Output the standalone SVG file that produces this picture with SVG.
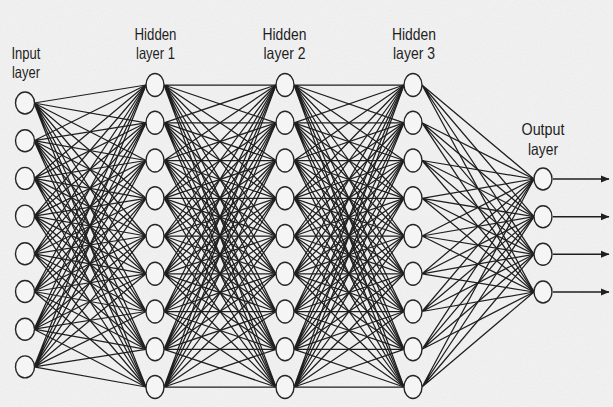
<svg xmlns="http://www.w3.org/2000/svg" width="613" height="407" viewBox="0 0 613 407">
<defs>
<style>
.edge{fill:none;stroke:#1f1f1f;stroke-width:1.25}
.node{fill:#f5f5f5;stroke:#262626;stroke-width:1.4}
.lbl{font-family:"Liberation Sans Narrow","Liberation Sans",Arial,sans-serif;font-size:16.5px;fill:#1e1e1e;text-anchor:middle}
.out{fill:none;stroke:#1f1f1f;stroke-width:1.4}
</style>
<filter id="paper" x="0" y="0" width="100%" height="100%">
<feTurbulence type="fractalNoise" baseFrequency="0.85" numOctaves="2" seed="4"/>
<feColorMatrix type="matrix" values="0.33 0.33 0.33 0 0 0.33 0.33 0.33 0 0 0.33 0.33 0.33 0 0 0 0 0 0 1"/>
</filter>
<marker id="arrow" markerWidth="9" markerHeight="9" refX="8" refY="4.5" orient="auto" markerUnits="userSpaceOnUse">
<path d="M0 1L8.5 4.5L0 8Z" fill="#1f1f1f"/>
</marker>
</defs>
<rect x="0" y="0" width="613" height="407" fill="#f6f6f6"/>
<rect x="0" y="0" width="613" height="407" filter="url(#paper)" opacity="0.1"/>
<g id="connectors">
<g id="input-to-h1" class="edge">
<path d="M34 103L146 85M34 103L146 122.8M34 103L146 160.5M34 103L146 198.3M34 103L146 236M34 103L146 273.8M34 103L146 311.5M34 103L146 349.3M34 103L146 387"/>
<path d="M34 140.7L146 85M34 140.7L146 122.8M34 140.7L146 160.5M34 140.7L146 198.3M34 140.7L146 236M34 140.7L146 273.8M34 140.7L146 311.5M34 140.7L146 349.3M34 140.7L146 387"/>
<path d="M34 178.4L146 85M34 178.4L146 122.8M34 178.4L146 160.5M34 178.4L146 198.3M34 178.4L146 236M34 178.4L146 273.8M34 178.4L146 311.5M34 178.4L146 349.3M34 178.4L146 387"/>
<path d="M34 216.1L146 85M34 216.1L146 122.8M34 216.1L146 160.5M34 216.1L146 198.3M34 216.1L146 236M34 216.1L146 273.8M34 216.1L146 311.5M34 216.1L146 349.3M34 216.1L146 387"/>
<path d="M34 253.8L146 85M34 253.8L146 122.8M34 253.8L146 160.5M34 253.8L146 198.3M34 253.8L146 236M34 253.8L146 273.8M34 253.8L146 311.5M34 253.8L146 349.3M34 253.8L146 387"/>
<path d="M34 291.5L146 85M34 291.5L146 122.8M34 291.5L146 160.5M34 291.5L146 198.3M34 291.5L146 236M34 291.5L146 273.8M34 291.5L146 311.5M34 291.5L146 349.3M34 291.5L146 387"/>
<path d="M34 329.2L146 85M34 329.2L146 122.8M34 329.2L146 160.5M34 329.2L146 198.3M34 329.2L146 236M34 329.2L146 273.8M34 329.2L146 311.5M34 329.2L146 349.3M34 329.2L146 387"/>
<path d="M34 366.9L146 85M34 366.9L146 122.8M34 366.9L146 160.5M34 366.9L146 198.3M34 366.9L146 236M34 366.9L146 273.8M34 366.9L146 311.5M34 366.9L146 349.3M34 366.9L146 387"/>
</g>
<g id="h1-to-h2" class="edge">
<path d="M164 85L276 85M164 85L276 122.8M164 85L276 160.5M164 85L276 198.3M164 85L276 236M164 85L276 273.8M164 85L276 311.5M164 85L276 349.3M164 85L276 387"/>
<path d="M164 122.8L276 85M164 122.8L276 122.8M164 122.8L276 160.5M164 122.8L276 198.3M164 122.8L276 236M164 122.8L276 273.8M164 122.8L276 311.5M164 122.8L276 349.3M164 122.8L276 387"/>
<path d="M164 160.5L276 85M164 160.5L276 122.8M164 160.5L276 160.5M164 160.5L276 198.3M164 160.5L276 236M164 160.5L276 273.8M164 160.5L276 311.5M164 160.5L276 349.3M164 160.5L276 387"/>
<path d="M164 198.3L276 85M164 198.3L276 122.8M164 198.3L276 160.5M164 198.3L276 198.3M164 198.3L276 236M164 198.3L276 273.8M164 198.3L276 311.5M164 198.3L276 349.3M164 198.3L276 387"/>
<path d="M164 236L276 85M164 236L276 122.8M164 236L276 160.5M164 236L276 198.3M164 236L276 236M164 236L276 273.8M164 236L276 311.5M164 236L276 349.3M164 236L276 387"/>
<path d="M164 273.8L276 85M164 273.8L276 122.8M164 273.8L276 160.5M164 273.8L276 198.3M164 273.8L276 236M164 273.8L276 273.8M164 273.8L276 311.5M164 273.8L276 349.3M164 273.8L276 387"/>
<path d="M164 311.5L276 85M164 311.5L276 122.8M164 311.5L276 160.5M164 311.5L276 198.3M164 311.5L276 236M164 311.5L276 273.8M164 311.5L276 311.5M164 311.5L276 349.3M164 311.5L276 387"/>
<path d="M164 349.3L276 85M164 349.3L276 122.8M164 349.3L276 160.5M164 349.3L276 198.3M164 349.3L276 236M164 349.3L276 273.8M164 349.3L276 311.5M164 349.3L276 349.3M164 349.3L276 387"/>
<path d="M164 387L276 85M164 387L276 122.8M164 387L276 160.5M164 387L276 198.3M164 387L276 236M164 387L276 273.8M164 387L276 311.5M164 387L276 349.3M164 387L276 387"/>
</g>
<g id="h2-to-h3" class="edge">
<path d="M294 85L404 85M294 85L404 122.8M294 85L404 160.5M294 85L404 198.3M294 85L404 236M294 85L404 273.8M294 85L404 311.5M294 85L404 349.3M294 85L404 387"/>
<path d="M294 122.8L404 85M294 122.8L404 122.8M294 122.8L404 160.5M294 122.8L404 198.3M294 122.8L404 236M294 122.8L404 273.8M294 122.8L404 311.5M294 122.8L404 349.3M294 122.8L404 387"/>
<path d="M294 160.5L404 85M294 160.5L404 122.8M294 160.5L404 160.5M294 160.5L404 198.3M294 160.5L404 236M294 160.5L404 273.8M294 160.5L404 311.5M294 160.5L404 349.3M294 160.5L404 387"/>
<path d="M294 198.3L404 85M294 198.3L404 122.8M294 198.3L404 160.5M294 198.3L404 198.3M294 198.3L404 236M294 198.3L404 273.8M294 198.3L404 311.5M294 198.3L404 349.3M294 198.3L404 387"/>
<path d="M294 236L404 85M294 236L404 122.8M294 236L404 160.5M294 236L404 198.3M294 236L404 236M294 236L404 273.8M294 236L404 311.5M294 236L404 349.3M294 236L404 387"/>
<path d="M294 273.8L404 85M294 273.8L404 122.8M294 273.8L404 160.5M294 273.8L404 198.3M294 273.8L404 236M294 273.8L404 273.8M294 273.8L404 311.5M294 273.8L404 349.3M294 273.8L404 387"/>
<path d="M294 311.5L404 85M294 311.5L404 122.8M294 311.5L404 160.5M294 311.5L404 198.3M294 311.5L404 236M294 311.5L404 273.8M294 311.5L404 311.5M294 311.5L404 349.3M294 311.5L404 387"/>
<path d="M294 349.3L404 85M294 349.3L404 122.8M294 349.3L404 160.5M294 349.3L404 198.3M294 349.3L404 236M294 349.3L404 273.8M294 349.3L404 311.5M294 349.3L404 349.3M294 349.3L404 387"/>
<path d="M294 387L404 85M294 387L404 122.8M294 387L404 160.5M294 387L404 198.3M294 387L404 236M294 387L404 273.8M294 387L404 311.5M294 387L404 349.3M294 387L404 387"/>
</g>
<g id="h3-to-output" class="edge">
<path d="M422 85L534 179M422 85L534 216.7M422 85L534 254.3M422 85L534 292"/>
<path d="M422 122.8L534 179M422 122.8L534 216.7M422 122.8L534 254.3M422 122.8L534 292"/>
<path d="M422 160.5L534 179M422 160.5L534 216.7M422 160.5L534 254.3M422 160.5L534 292"/>
<path d="M422 198.3L534 179M422 198.3L534 216.7M422 198.3L534 254.3M422 198.3L534 292"/>
<path d="M422 236L534 179M422 236L534 216.7M422 236L534 254.3M422 236L534 292"/>
<path d="M422 273.8L534 179M422 273.8L534 216.7M422 273.8L534 254.3M422 273.8L534 292"/>
<path d="M422 311.5L534 179M422 311.5L534 216.7M422 311.5L534 254.3M422 311.5L534 292"/>
<path d="M422 349.3L534 179M422 349.3L534 216.7M422 349.3L534 254.3M422 349.3L534 292"/>
<path d="M422 387L534 179M422 387L534 216.7M422 387L534 254.3M422 387L534 292"/>
</g>
<g id="outputs" class="out">
<path d="M553 179H609" marker-end="url(#arrow)"/>
<path d="M553 216.7H609" marker-end="url(#arrow)"/>
<path d="M553 254.3H609" marker-end="url(#arrow)"/>
<path d="M553 292H609" marker-end="url(#arrow)"/>
</g>
</g>
<g id="input-layer">
<g id="in1"><ellipse class="node" cx="25" cy="103" rx="9.5" ry="11"/></g>
<g id="in2"><ellipse class="node" cx="25" cy="140.7" rx="9.5" ry="11"/></g>
<g id="in3"><ellipse class="node" cx="25" cy="178.4" rx="9.5" ry="11"/></g>
<g id="in4"><ellipse class="node" cx="25" cy="216.1" rx="9.5" ry="11"/></g>
<g id="in5"><ellipse class="node" cx="25" cy="253.8" rx="9.5" ry="11"/></g>
<g id="in6"><ellipse class="node" cx="25" cy="291.5" rx="9.5" ry="11"/></g>
<g id="in7"><ellipse class="node" cx="25" cy="329.2" rx="9.5" ry="11"/></g>
<g id="in8"><ellipse class="node" cx="25" cy="366.9" rx="9.5" ry="11"/></g>
</g>
<g id="hidden-layer-1">
<g id="h1n1"><ellipse class="node" cx="155" cy="85" rx="9" ry="11.5"/></g>
<g id="h1n2"><ellipse class="node" cx="155" cy="122.8" rx="9" ry="11.5"/></g>
<g id="h1n3"><ellipse class="node" cx="155" cy="160.5" rx="9" ry="11.5"/></g>
<g id="h1n4"><ellipse class="node" cx="155" cy="198.3" rx="9" ry="11.5"/></g>
<g id="h1n5"><ellipse class="node" cx="155" cy="236" rx="9" ry="11.5"/></g>
<g id="h1n6"><ellipse class="node" cx="155" cy="273.8" rx="9" ry="11.5"/></g>
<g id="h1n7"><ellipse class="node" cx="155" cy="311.5" rx="9" ry="11.5"/></g>
<g id="h1n8"><ellipse class="node" cx="155" cy="349.3" rx="9" ry="11.5"/></g>
<g id="h1n9"><ellipse class="node" cx="155" cy="387" rx="9" ry="11.5"/></g>
</g>
<g id="hidden-layer-2">
<g id="h2n1"><ellipse class="node" cx="285" cy="85" rx="9" ry="11.5"/></g>
<g id="h2n2"><ellipse class="node" cx="285" cy="122.8" rx="9" ry="11.5"/></g>
<g id="h2n3"><ellipse class="node" cx="285" cy="160.5" rx="9" ry="11.5"/></g>
<g id="h2n4"><ellipse class="node" cx="285" cy="198.3" rx="9" ry="11.5"/></g>
<g id="h2n5"><ellipse class="node" cx="285" cy="236" rx="9" ry="11.5"/></g>
<g id="h2n6"><ellipse class="node" cx="285" cy="273.8" rx="9" ry="11.5"/></g>
<g id="h2n7"><ellipse class="node" cx="285" cy="311.5" rx="9" ry="11.5"/></g>
<g id="h2n8"><ellipse class="node" cx="285" cy="349.3" rx="9" ry="11.5"/></g>
<g id="h2n9"><ellipse class="node" cx="285" cy="387" rx="9" ry="11.5"/></g>
</g>
<g id="hidden-layer-3">
<g id="h3n1"><ellipse class="node" cx="413" cy="85" rx="9" ry="11.5"/></g>
<g id="h3n2"><ellipse class="node" cx="413" cy="122.8" rx="9" ry="11.5"/></g>
<g id="h3n3"><ellipse class="node" cx="413" cy="160.5" rx="9" ry="11.5"/></g>
<g id="h3n4"><ellipse class="node" cx="413" cy="198.3" rx="9" ry="11.5"/></g>
<g id="h3n5"><ellipse class="node" cx="413" cy="236" rx="9" ry="11.5"/></g>
<g id="h3n6"><ellipse class="node" cx="413" cy="273.8" rx="9" ry="11.5"/></g>
<g id="h3n7"><ellipse class="node" cx="413" cy="311.5" rx="9" ry="11.5"/></g>
<g id="h3n8"><ellipse class="node" cx="413" cy="349.3" rx="9" ry="11.5"/></g>
<g id="h3n9"><ellipse class="node" cx="413" cy="387" rx="9" ry="11.5"/></g>
</g>
<g id="output-layer">
<g id="out1"><ellipse class="node" cx="543" cy="179" rx="9" ry="11"/></g>
<g id="out2"><ellipse class="node" cx="543" cy="216.7" rx="9" ry="11"/></g>
<g id="out3"><ellipse class="node" cx="543" cy="254.3" rx="9" ry="11"/></g>
<g id="out4"><ellipse class="node" cx="543" cy="292" rx="9" ry="11"/></g>
</g>
<g id="labels">
<text class="lbl" x="26" y="59" textLength="29" lengthAdjust="spacingAndGlyphs">Input</text>
<text class="lbl" x="26" y="78" textLength="28" lengthAdjust="spacingAndGlyphs">layer</text>
<text class="lbl" x="155.5" y="39.5" textLength="42" lengthAdjust="spacingAndGlyphs">Hidden</text>
<text class="lbl" x="155.5" y="59" textLength="39" lengthAdjust="spacingAndGlyphs">layer 1</text>
<text class="lbl" x="284.5" y="39.5" textLength="44" lengthAdjust="spacingAndGlyphs">Hidden</text>
<text class="lbl" x="284.5" y="59" textLength="42" lengthAdjust="spacingAndGlyphs">layer 2</text>
<text class="lbl" x="414" y="39.5" textLength="44" lengthAdjust="spacingAndGlyphs">Hidden</text>
<text class="lbl" x="414" y="59" textLength="42" lengthAdjust="spacingAndGlyphs">layer 3</text>
<text class="lbl" x="543" y="135" textLength="43" lengthAdjust="spacingAndGlyphs">Output</text>
<text class="lbl" x="543" y="155" textLength="30" lengthAdjust="spacingAndGlyphs">layer</text>
</g>
</svg>
